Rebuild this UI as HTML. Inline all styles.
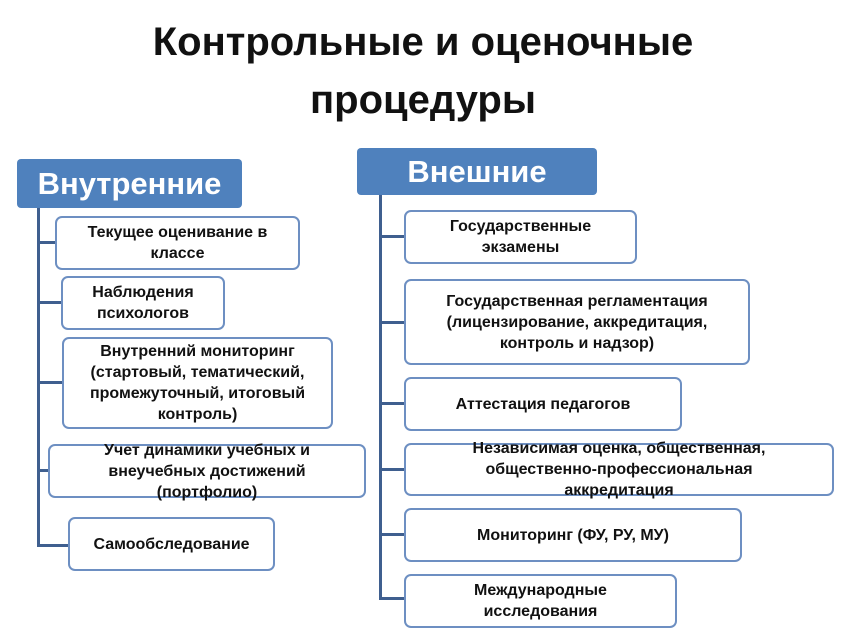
<!DOCTYPE html>
<html><head><meta charset="utf-8"><style>
body{margin:0;width:846px;height:634px;background:#fff;position:relative;overflow:hidden;font-family:"Liberation Sans",sans-serif;}
.t{position:absolute;left:0;width:846px;text-align:center;font-weight:bold;font-size:40px;color:#111;line-height:58px;}
.h{position:absolute;background:#4f81bd;color:#fff;font-weight:bold;font-size:31px;border-radius:4px;display:flex;align-items:center;justify-content:center;}
.b{position:absolute;border:2px solid #6d8fc2;border-radius:7px;background:#fff;box-sizing:border-box;display:flex;align-items:center;justify-content:center;text-align:center;font-weight:bold;font-size:16px;line-height:21px;color:#111;}
.l{position:absolute;background:#3f5f8f;}
</style></head><body>
<div class="t" style="top:13px">Контрольные и оценочные</div>
<div class="t" style="top:71px">процедуры</div>

<div class="l" style="left:37px;top:205px;width:3px;height:342px"></div>
<div class="l" style="left:37px;top:241px;width:20px;height:3px"></div>
<div class="l" style="left:37px;top:301px;width:26px;height:3px"></div>
<div class="l" style="left:37px;top:381px;width:27px;height:3px"></div>
<div class="l" style="left:37px;top:469px;width:13px;height:3px"></div>
<div class="l" style="left:37px;top:544px;width:33px;height:3px"></div>
<div class="h" style="left:17px;top:159px;width:225px;height:49px">Внутренние</div>
<div class="b" style="left:55px;top:216px;width:245px;height:54px">Текущее оценивание в<br>классе</div>
<div class="b" style="left:61px;top:276px;width:164px;height:54px">Наблюдения<br>психологов</div>
<div class="b" style="left:62px;top:337px;width:271px;height:92px">Внутренний мониторинг<br>(стартовый, тематический,<br>промежуточный, итоговый<br>контроль)</div>
<div class="b" style="left:48px;top:444px;width:318px;height:54px">Учет динамики учебных и<br>внеучебных достижений<br>(портфолио)</div>
<div class="b" style="left:68px;top:517px;width:207px;height:54px">Самообследование</div>

<div class="l" style="left:379px;top:193px;width:3px;height:406px"></div>
<div class="l" style="left:379px;top:235px;width:27px;height:3px"></div>
<div class="l" style="left:379px;top:321px;width:27px;height:3px"></div>
<div class="l" style="left:379px;top:402px;width:27px;height:3px"></div>
<div class="l" style="left:379px;top:468px;width:27px;height:3px"></div>
<div class="l" style="left:379px;top:533px;width:27px;height:3px"></div>
<div class="l" style="left:379px;top:597px;width:27px;height:3px"></div>
<div class="h" style="left:357px;top:148px;width:240px;height:47px">Внешние</div>
<div class="b" style="left:404px;top:210px;width:233px;height:54px">Государственные<br>экзамены</div>
<div class="b" style="left:404px;top:279px;width:346px;height:86px">Государственная регламентация<br>(лицензирование, аккредитация,<br>контроль и надзор)</div>
<div class="b" style="left:404px;top:377px;width:278px;height:54px">Аттестация педагогов</div>
<div class="b" style="left:404px;top:443px;width:430px;height:53px">Независимая оценка, общественная,<br>общественно-профессиональная<br>аккредитация</div>
<div class="b" style="left:404px;top:508px;width:338px;height:54px">Мониторинг (ФУ, РУ, МУ)</div>
<div class="b" style="left:404px;top:574px;width:273px;height:54px">Международные<br>исследования</div>
</body></html>
